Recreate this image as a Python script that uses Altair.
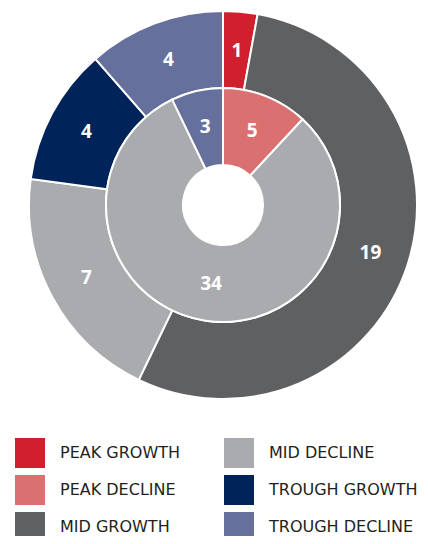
import altair as alt
import pandas as pd

# Outer ring
outer_categories = ["PEAK GROWTH", "MID GROWTH", "MID DECLINE", "TROUGH GROWTH", "TROUGH DECLINE"]
outer_values = [1, 19, 7, 4, 4]
# Inner ring
inner_categories = ["PEAK DECLINE", "MID DECLINE", "TROUGH DECLINE"]
inner_values = [5, 34, 3]

# Legend order (column-major, 3 rows x 2 columns)
legend_order = ["PEAK GROWTH", "PEAK DECLINE", "MID GROWTH", "MID DECLINE", "TROUGH GROWTH", "TROUGH DECLINE"]
legend_colors = ["#D0202E", "#DA7070", "#5F6062", "#AAABAF", "#00235A", "#66709C"]

rows = []
for i, (c, v) in enumerate(zip(outer_categories, outer_values)):
    rows.append({"ring": "outer", "category": c, "value": v, "ord": i})
for i, (c, v) in enumerate(zip(inner_categories, inner_values)):
    rows.append({"ring": "inner", "category": c, "value": v, "ord": i})
df = pd.DataFrame(rows)

color = alt.Color(
    "category:N",
    scale=alt.Scale(domain=legend_order, range=legend_colors),
    legend=alt.Legend(
        title=None,
        orient="none",
        legendX=-11,
        legendY=430,
        columns=2,
        symbolType="square",
        symbolSize=900,
        symbolStrokeWidth=0,
        symbolOpacity=1,
        labelFontSize=16,
        labelFont="DejaVu Sans",
        labelColor="#231F20",
        labelOffset=15,
        rowPadding=7,
        columnPadding=43,
        labelLimit=300,
        padding=0,
    ),
)

base = alt.Chart(df)

def ring(name, inner_r, outer_r, label_r):
    src = base.transform_filter(alt.datum.ring == name)
    arcs = src.mark_arc(innerRadius=inner_r, outerRadius=outer_r, stroke="white", strokeWidth=2).encode(
        theta=alt.Theta("value:Q", stack=True),
        order=alt.Order("ord:Q"),
        color=color,
    )
    labels = src.mark_text(radius=label_r, color="white", font="Open Sans", fontWeight="bold", fontSize=19).encode(
        theta=alt.Theta("value:Q", stack=True),
        order=alt.Order("ord:Q"),
        text=alt.Text("value:Q"),
    )
    return arcs, labels

oa, ol = ring("outer", 117, 194, 155)
ia, il = ring("inner", 40, 117, 80)

chart = alt.layer(oa, ia, ol, il).resolve_scale(theta="independent").properties(
    width=394,
    height=394,
    padding={"left": 18, "top": 0, "right": 0, "bottom": 134},
    autosize=alt.AutoSizeParams(type="none"),
).configure_view(stroke=None)

chart.save("out.html", embed_options={"renderer": "svg", "actions": False})
